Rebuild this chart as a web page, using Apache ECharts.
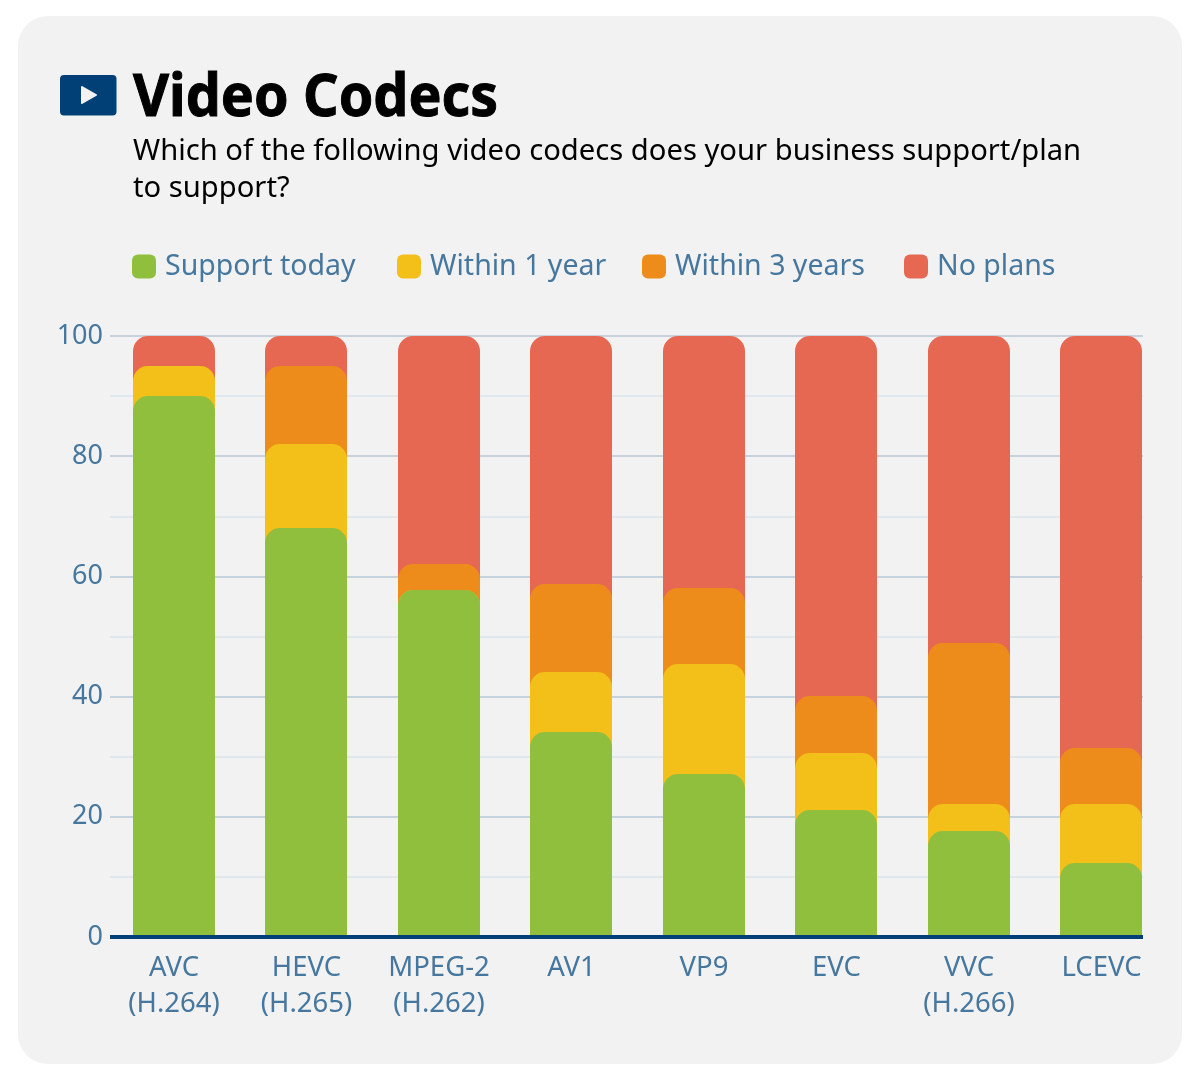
<!DOCTYPE html>
<html>
<head>
<meta charset="utf-8">
<style>
    html, body { margin: 0; padding: 0; background: #fff; }
    #chart { width: 1200px; height: 1080px; }
</style>
<script src="https://cdn.jsdelivr.net/npm/echarts@6/dist/echarts.min.js"></script>
</head>
<body>
<div id="chart"></div>
<script>
const categories = ['AVC\n(H.264)', 'HEVC\n(H.265)', 'MPEG-2\n(H.262)', 'AV1', 'VP9', 'EVC', 'VVC\n(H.266)', 'LCEVC'];
const supportToday = [90, 68, 57.6, 34.1, 27, 21, 17.6, 12.3];
const within1Year = [5, 14, 0, 9.9, 18.3, 9.5, 4.5, 9.8];
const within3Years = [0, 13, 4.4, 14.6, 12.7, 9.5, 26.7, 9.2];
const noPlans = [5, 5, 38, 41.4, 42, 60, 51.2, 68.7];
const seriesNames = ['Support today', 'Within 1 year', 'Within 3 years', 'No plans'];
const seriesColors = ['#90bf3e', '#f3bf19', '#ee8c1b', '#e66852'];
const legendLefts = [127, 392, 637, 899];

const FONT = '"Noto Sans", sans-serif';
const TEXT_BLUE = '#46779e';
const BAR_WIDTH = 82;

// 每段柱子都从 0 画到累计值，上一段的圆角下面才能露出下一层颜色
const layers = [supportToday, within1Year, within3Years, noPlans];
const cumulative = layers.map((_, i) =>
    categories.map((_, c) => {
        let sum = 0;
        for (let k = 0; k <= i; k++) sum += layers[k][c];
        return Math.round(sum * 10) / 10;
    })
);

// 柱子取整到像素，叠放时边缘不会透出后面的颜色
const renderBar = function (params, api) {
    const top = api.coord([api.value(0), api.value(1)]);
    const bottom = api.coord([api.value(0), 0]);
    const y = Math.round(top[1]);
    return {
        type: 'rect',
        shape: {
            x: Math.floor(top[0] - BAR_WIDTH / 2),
            y: y,
            width: BAR_WIDTH,
            height: Math.round(bottom[1]) - y,
            r: [15, 15, 0, 0]
        },
        style: { fill: api.visual('color') }
    };
};

const chart = echarts.init(document.getElementById('chart'), null, { renderer: 'canvas' });
chart.setOption({
    animation: false,
    backgroundColor: '#ffffff',
    textStyle: { fontFamily: FONT },
    graphic: [
        { type: 'rect', z: -10, shape: { x: 18, y: 16, width: 1164, height: 1048, r: 30 }, style: { fill: '#f2f2f2' } },
        { type: 'rect', z: 5, shape: { x: 60, y: 75, width: 56.5, height: 40.5, r: 4 }, style: { fill: '#004077' } },
        { type: 'polygon', z: 6, shape: { points: [[82, 87], [96, 95], [82, 103]] }, style: { fill: '#f2f2f2', stroke: '#f2f2f2', lineWidth: 2, lineJoin: 'round' } },
        { type: 'text', z: 6, x: 133, y: 69, scaleX: 0.925, style: { x: 0, y: 0, text: 'Video Codecs', fill: '#000', stroke: '#000', lineWidth: 1, font: 'bold 60px ' + FONT } },
        { type: 'text', z: 6, style: { x: 133, y: 133, text: 'Which of the following video codecs does your business support/plan\nto support?', fill: '#000', font: '29.2px ' + FONT, lineHeight: 37 } }
    ],
    // 图例间距不均匀，每项单独定位
    legend: seriesNames.map((name, i) => ({
        left: legendLefts[i],
        top: 247,
        itemWidth: 24,
        itemHeight: 24,
        icon: 'roundRect',
        selectedMode: false,
        data: [name],
        textStyle: { color: TEXT_BLUE, fontSize: 28.5, fontFamily: FONT, padding: [0, 0, 0, 4] }
    })),
    grid: [
        // 网格线和基线
        { left: 110, top: 336, width: 1033, height: 601 },
        // 柱子的分类带比网格线宽，单独放一个 grid
        { left: 107.75, top: 335.5, width: 1060, height: 601 }
    ],
    xAxis: [
        {
            gridIndex: 0, type: 'category', data: [], z: 10,
            axisLine: { lineStyle: { color: '#004077', width: 4, cap: 'butt' } },
            axisTick: { show: false }, axisLabel: { show: false }
        },
        {
            gridIndex: 1, type: 'category', data: categories,
            axisLine: { show: false }, axisTick: { show: false },
            axisLabel: { color: TEXT_BLUE, fontSize: 27.5, fontFamily: FONT, lineHeight: 36, margin: 14, interval: 0, verticalAlign: 'top' }
        }
    ],
    yAxis: [
        {
            gridIndex: 0, type: 'value', min: 0, max: 100, interval: 20,
            axisLine: { show: false }, axisTick: { show: false },
            axisLabel: { color: TEXT_BLUE, fontSize: 27, fontFamily: FONT, margin: 7, padding: [2, 0, 0, 0] },
            splitLine: { lineStyle: { color: '#c6d3df', width: 2 } },
            minorTick: { show: false, splitNumber: 2 },
            minorSplitLine: { show: true, lineStyle: { color: '#e2e7ec', width: 2 } }
        },
        { gridIndex: 1, type: 'value', min: 0, max: 100, show: false }
    ],
    series: seriesNames.map((name, i) => ({
        name: name,
        type: 'custom',
        xAxisIndex: 1,
        yAxisIndex: 1,
        z: 5 - i,
        itemStyle: { color: seriesColors[i] },
        encode: { x: 0, y: 1 },
        renderItem: renderBar,
        data: cumulative[i].map((value, c) => [c, value])
    }))
});
</script>
</body>
</html>
